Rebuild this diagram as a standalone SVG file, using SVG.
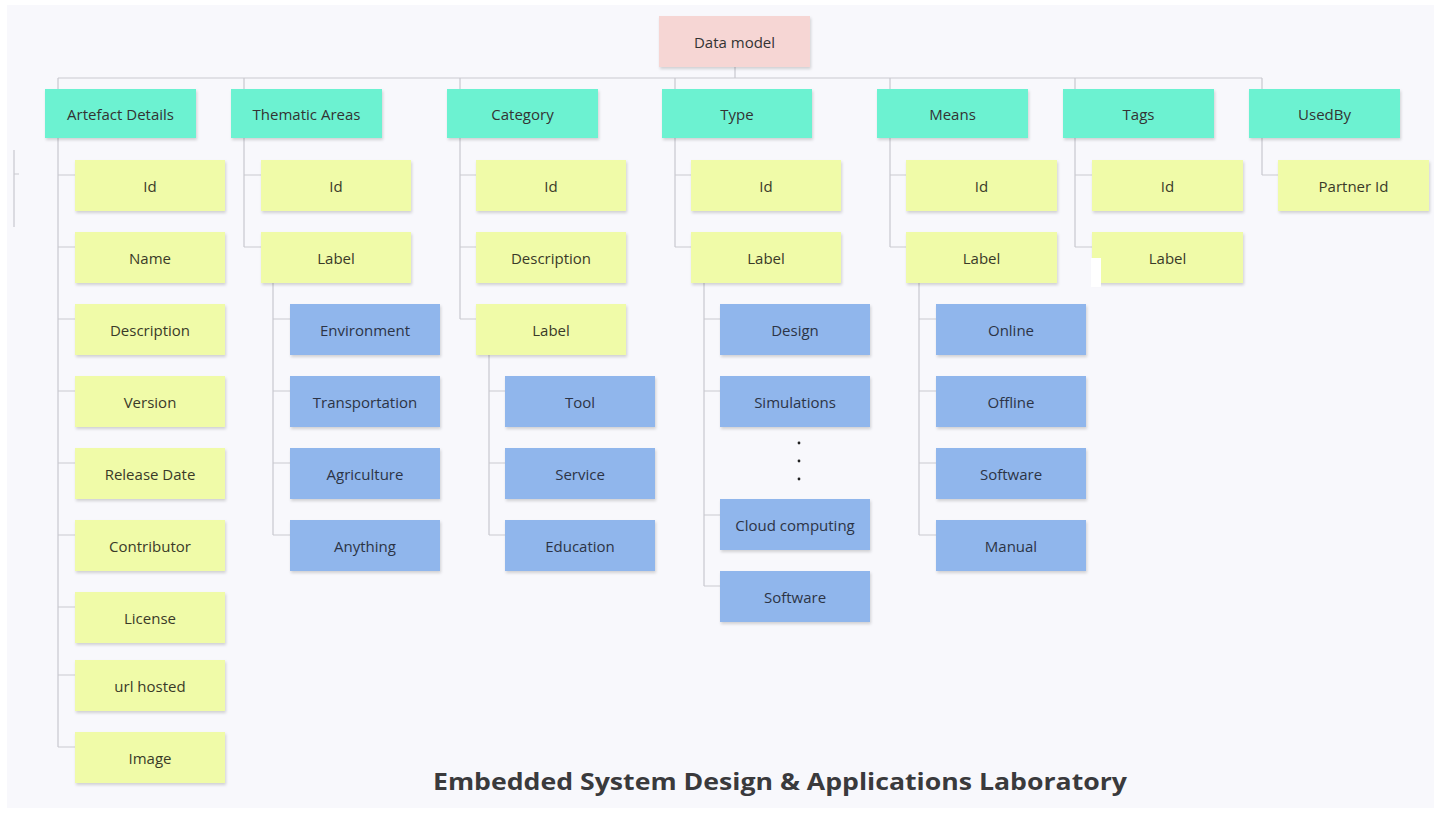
<svg xmlns="http://www.w3.org/2000/svg" width="1441" height="814" viewBox="0 0 1441 814">
<defs>
<filter id="sh" x="-10%" y="-10%" width="125%" height="135%">
<feDropShadow dx="1" dy="2" stdDeviation="1.5" flood-color="#000" flood-opacity="0.16"/>
</filter>
<style>
.n rect{filter:url(#sh)}
.root rect{fill:#f6d6d4}
.l1 rect{fill:#6cf2d1}
.l2 rect{fill:#f0fba8}
.l3 rect{fill:#90b6ec}
.n text{font-family:"Open Sans","Liberation Sans",sans-serif;font-size:15px;fill:#333;text-anchor:middle;dominant-baseline:central}
.l2 text{fill:#3a3a28}
.l3 text{fill:#2c3446}
#conn path{fill:none;stroke:#c9c9cf;stroke-width:1.2}
</style>
</defs>
<rect width="1441" height="814" fill="#ffffff"/>
<rect x="7" y="5" width="1427" height="803" fill="#f8f8fc"/>
<path d="M14 150V227M14 174H19" stroke="#c9c9cf" stroke-width="1.2" fill="none"/>
<g id="conn">
<path d="M735 67V78M58 78H1262M58 78V89M244 78V89M460 78V89M675 78V89M890 78V89M1075 78V89M1262 78V89"/>
<path d="M58 138V747M58 175H75M58 247H75M58 319H75M58 391H75M58 463H75M58 535H75M58 607H75M58 675H75M58 747H75"/>
<path d="M244 138V247M244 175H261M244 247H261"/>
<path d="M273 283V535M273 319H290M273 391H290M273 463H290M273 535H290"/>
<path d="M460 138V319M460 175H476M460 247H476M460 319H476"/>
<path d="M489 355V535M489 391H505M489 463H505M489 535H505"/>
<path d="M675 138V247M675 175H691M675 247H691"/>
<path d="M704 283V586M704 319H720M704 391H720M704 515H720M704 586H720"/>
<path d="M890 138V247M890 175H906M890 247H906"/>
<path d="M919 283V535M919 319H936M919 391H936M919 463H936M919 535H936"/>
<path d="M1075 138V247M1075 175H1092M1075 247H1092"/>
<path d="M1262 138V175M1262 175H1278"/>
</g>
<g id="n-data-model" class="n root"><rect x="659" y="16" width="151" height="51"/><text x="734.5" y="41.5">Data model</text></g>
<g id="n-artefact" class="n l1"><rect x="45" y="89" width="151" height="49"/><text x="120.5" y="113.5">Artefact Details</text></g>
<g id="n-thematic" class="n l1"><rect x="231" y="89" width="151" height="49"/><text x="306.5" y="113.5">Thematic Areas</text></g>
<g id="n-category" class="n l1"><rect x="447" y="89" width="151" height="49"/><text x="522.5" y="113.5">Category</text></g>
<g id="n-type" class="n l1"><rect x="662" y="89" width="150" height="49"/><text x="737" y="113.5">Type</text></g>
<g id="n-means" class="n l1"><rect x="877" y="89" width="151" height="49"/><text x="952.5" y="113.5">Means</text></g>
<g id="n-tags" class="n l1"><rect x="1063" y="89" width="151" height="49"/><text x="1138.5" y="113.5">Tags</text></g>
<g id="n-usedby" class="n l1"><rect x="1249" y="89" width="151" height="49"/><text x="1324.5" y="113.5">UsedBy</text></g>

<g id="n-ad-id" class="n l2"><rect x="75" y="160" width="150" height="51"/><text x="150" y="185.5">Id</text></g>
<g id="n-ad-name" class="n l2"><rect x="75" y="232" width="150" height="51"/><text x="150" y="257.5">Name</text></g>
<g id="n-ad-desc" class="n l2"><rect x="75" y="304" width="150" height="51"/><text x="150" y="329.5">Description</text></g>
<g id="n-ad-version" class="n l2"><rect x="75" y="376" width="150" height="51"/><text x="150" y="401.5">Version</text></g>
<g id="n-ad-release" class="n l2"><rect x="75" y="448" width="150" height="51"/><text x="150" y="473.5">Release Date</text></g>
<g id="n-ad-contrib" class="n l2"><rect x="75" y="520" width="150" height="51"/><text x="150" y="545.5">Contributor</text></g>
<g id="n-ad-license" class="n l2"><rect x="75" y="592" width="150" height="51"/><text x="150" y="617.5">License</text></g>
<g id="n-ad-url" class="n l2"><rect x="75" y="660" width="150" height="51"/><text x="150" y="685.5">url hosted</text></g>
<g id="n-ad-image" class="n l2"><rect x="75" y="732" width="150" height="51"/><text x="150" y="757.5">Image</text></g>

<g id="n-ta-id" class="n l2"><rect x="261" y="160" width="150" height="51"/><text x="336" y="185.5">Id</text></g>
<g id="n-ta-label" class="n l2"><rect x="261" y="232" width="150" height="51"/><text x="336" y="257.5">Label</text></g>
<g id="n-ta-env" class="n l3"><rect x="290" y="304" width="150" height="51"/><text x="365" y="329.5">Environment</text></g>
<g id="n-ta-trans" class="n l3"><rect x="290" y="376" width="150" height="51"/><text x="365" y="401.5">Transportation</text></g>
<g id="n-ta-agri" class="n l3"><rect x="290" y="448" width="150" height="51"/><text x="365" y="473.5">Agriculture</text></g>
<g id="n-ta-any" class="n l3"><rect x="290" y="520" width="150" height="51"/><text x="365" y="545.5">Anything</text></g>

<g id="n-cat-id" class="n l2"><rect x="476" y="160" width="150" height="51"/><text x="551" y="185.5">Id</text></g>
<g id="n-cat-desc" class="n l2"><rect x="476" y="232" width="150" height="51"/><text x="551" y="257.5">Description</text></g>
<g id="n-cat-label" class="n l2"><rect x="476" y="304" width="150" height="51"/><text x="551" y="329.5">Label</text></g>
<g id="n-cat-tool" class="n l3"><rect x="505" y="376" width="150" height="51"/><text x="580" y="401.5">Tool</text></g>
<g id="n-cat-service" class="n l3"><rect x="505" y="448" width="150" height="51"/><text x="580" y="473.5">Service</text></g>
<g id="n-cat-edu" class="n l3"><rect x="505" y="520" width="150" height="51"/><text x="580" y="545.5">Education</text></g>

<g id="n-type-id" class="n l2"><rect x="691" y="160" width="150" height="51"/><text x="766" y="185.5">Id</text></g>
<g id="n-type-label" class="n l2"><rect x="691" y="232" width="150" height="51"/><text x="766" y="257.5">Label</text></g>
<g id="n-type-design" class="n l3"><rect x="720" y="304" width="150" height="51"/><text x="795" y="329.5">Design</text></g>
<g id="n-type-sim" class="n l3"><rect x="720" y="376" width="150" height="51"/><text x="795" y="401.5">Simulations</text></g>
<g id="dots" fill="#222"><circle cx="799" cy="443" r="1.4"/><circle cx="799" cy="461" r="1.4"/><circle cx="799" cy="479" r="1.4"/></g>
<g id="n-type-cloud" class="n l3"><rect x="720" y="499" width="150" height="51"/><text x="795" y="524.5">Cloud computing</text></g>
<g id="n-type-soft" class="n l3"><rect x="720" y="571" width="150" height="51"/><text x="795" y="596.5">Software</text></g>

<g id="n-means-id" class="n l2"><rect x="906" y="160" width="151" height="51"/><text x="981.5" y="185.5">Id</text></g>
<g id="n-means-label" class="n l2"><rect x="906" y="232" width="151" height="51"/><text x="981.5" y="257.5">Label</text></g>
<g id="n-means-online" class="n l3"><rect x="936" y="304" width="150" height="51"/><text x="1011" y="329.5">Online</text></g>
<g id="n-means-offline" class="n l3"><rect x="936" y="376" width="150" height="51"/><text x="1011" y="401.5">Offline</text></g>
<g id="n-means-soft" class="n l3"><rect x="936" y="448" width="150" height="51"/><text x="1011" y="473.5">Software</text></g>
<g id="n-means-manual" class="n l3"><rect x="936" y="520" width="150" height="51"/><text x="1011" y="545.5">Manual</text></g>

<g id="n-tags-id" class="n l2"><rect x="1092" y="160" width="151" height="51"/><text x="1167.5" y="185.5">Id</text></g>
<g id="n-tags-label" class="n l2"><rect x="1092" y="232" width="151" height="51"/><text x="1167.5" y="257.5">Label</text></g>
<rect x="1091" y="258" width="10" height="29" fill="#ffffff"/>

<g id="n-usedby-partner" class="n l2"><rect x="1278" y="160" width="151" height="51"/><text x="1353.5" y="185.5">Partner Id</text></g>

<text x="780" y="790" text-anchor="middle" font-family="'Open Sans','Liberation Sans',sans-serif" font-weight="bold" font-size="24" fill="#3a3a3c" textLength="694" lengthAdjust="spacingAndGlyphs">Embedded System Design &amp; Applications Laboratory</text>
</svg>
